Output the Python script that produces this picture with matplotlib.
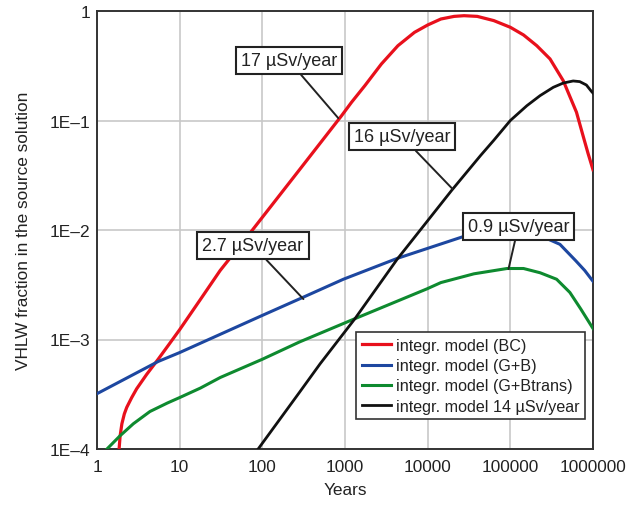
import matplotlib.pyplot as plt
from matplotlib.ticker import FixedLocator, FixedFormatter, NullLocator

plt.rcParams['font.family'] = ['Liberation Sans', 'DejaVu Sans']

# values
bc_years = [1.85, 1.905, 2.0, 2.14, 2.29, 2.63, 3.02, 3.98, 5.5, 7.67, 10, 17.6, 30.9,
            75.9, 288, 912, 1202, 1738, 2754, 4365, 6918, 10000, 14450, 20890, 27540,
            39810, 63100, 100000, 144500, 208900, 302000, 436500, 631000, 758600,
            871000, 1000000]
bc_frac = [1.0e-4, 1.32e-4, 1.70e-4, 2.09e-4, 2.40e-4, 2.95e-4, 3.55e-4, 4.79e-4,
           6.61e-4, 9.33e-4, 1.23e-3, 2.29e-3, 4.27e-3, 1.0e-2, 3.63e-2, 0.111, 0.147,
           0.208, 0.328, 0.482, 0.638, 0.745, 0.845, 0.893, 0.906, 0.893, 0.817, 0.710,
           0.604, 0.482, 0.365, 0.231, 0.119, 0.0724, 0.0501, 0.0355]

gb_years = [1, 5.5, 10, 100, 282, 955, 4270, 26900, 100000, 200000, 398000, 617000,
            794000, 1000000]
gb_frac = [3.2e-4, 6.3e-4, 7.6e-4, 1.66e-3, 2.35e-3, 3.55e-3, 5.5e-3, 8.7e-3, 1.0e-2,
           9.3e-3, 7.4e-3, 5.25e-3, 4.27e-3, 3.4e-3]

gbt_years = [1.32, 1.9, 2.75, 4.37, 7.1, 10, 17.8, 31, 100, 282, 1320, 9800, 14450,
             36300, 91200, 144500, 229000, 363000, 525000, 708000, 1000000]
gbt_frac = [1.0e-4, 1.32e-4, 1.7e-4, 2.2e-4, 2.63e-4, 2.95e-4, 3.6e-4, 4.5e-4, 6.6e-4,
            9.5e-4, 1.55e-3, 2.9e-3, 3.31e-3, 3.98e-3, 4.45e-3, 4.45e-3, 4.07e-3,
            3.55e-3, 2.69e-3, 1.91e-3, 1.26e-3]

m14_years = [89, 282, 500, 1320, 4270, 19500, 43650, 63100, 100000, 158500, 229000,
             331000, 436500, 575400, 691800, 831800, 955000, 1000000]
m14_frac = [1e-4, 3.3e-4, 6.0e-4, 1.55e-3, 5.4e-3, 2.3e-2, 4.79e-2, 0.066, 0.10, 0.1365,
            0.1687, 0.201, 0.2198, 0.2296, 0.2265, 0.2109, 0.1849, 0.178]

x_ticks = [1, 10, 100, 1000, 10000, 100000, 1000000]
x_labels = ['1', '10', '100', '1000', '10000', '100000', '1000000']
y_ticks = [1e-4, 1e-3, 1e-2, 1e-1, 1]
y_labels = ['1E\u20134', '1E\u20133', '1E\u20132', '1E\u20131', '1']

# (text, box centre, point on curve)
notes = [
    ('17 \u00b5Sv/year', (209, 0.353), (830, 0.105)),
    ('16 \u00b5Sv/year', (4900, 0.0714), (20000, 0.0237)),
    ('2.7 \u00b5Sv/year', (77, 7.2e-3), (314, 2.34e-3)),
    ('0.9 \u00b5Sv/year', (125000, 0.0108), (95000, 4.4e-3)),
]

txt = '#222222'

fig = plt.figure(figsize=(6.37, 5.06), dpi=100)
ax = fig.add_axes([97 / 637, 56 / 506, 496 / 637, 438 / 506])

ax.plot(bc_years, bc_frac, color='#e8101c', lw=2.3, label='integr. model (BC)', zorder=3)
ax.plot(gb_years, gb_frac, color='#1d47a0', lw=2.2, label='integr. model (G+B)', zorder=3)
ax.plot(gbt_years, gbt_frac, color='#0e8a2f', lw=2.2, label='integr. model (G+Btrans)', zorder=3)
ax.plot(m14_years, m14_frac, color='#111111', lw=2.0,
        label='integr. model 14 \u00b5Sv/year', zorder=3)

ax.set_xscale('log')
ax.set_yscale('log')
ax.set_xlim(1, 1e6)
ax.set_ylim(1e-4, 1)

ax.xaxis.set_major_locator(FixedLocator(x_ticks))
ax.xaxis.set_major_formatter(FixedFormatter(x_labels))
ax.yaxis.set_major_locator(FixedLocator(y_ticks))
ax.yaxis.set_major_formatter(FixedFormatter(y_labels))
ax.xaxis.set_minor_locator(NullLocator())
ax.yaxis.set_minor_locator(NullLocator())
ax.tick_params(length=0, labelsize=12.4, labelcolor=txt)
ax.tick_params(axis='x', pad=7)
ax.tick_params(axis='y', pad=5)

ax.grid(True, color='#c8c8c8', lw=1.2)
ax.set_axisbelow(True)
for s in ax.spines.values():
    s.set_color('#333333')
    s.set_linewidth(1.4)

ax.set_xlabel('Years', fontsize=12.4, color=txt, labelpad=6)
ax.set_ylabel('VHLW fraction in the source solution', fontsize=12.4, color=txt, labelpad=13)

for label, xytext, xy in notes:
    ax.annotate(label, xy=xy, xytext=xytext, ha='center', va='center',
                fontsize=13, color=txt, zorder=5,
                bbox=dict(boxstyle='square,pad=0.28', fc='white', ec='#222222', lw=1.5),
                arrowprops=dict(arrowstyle='-', color='#222222', lw=1.4,
                                shrinkA=0, shrinkB=0))

leg = ax.legend(loc='lower right', bbox_to_anchor=(0.984, 0.068), borderaxespad=0,
                fontsize=11.6, frameon=True, fancybox=False, framealpha=1,
                handlelength=1.8, handletextpad=0.3, labelspacing=0.32,
                borderpad=0.35)
leg.get_frame().set_edgecolor('#333333')
leg.get_frame().set_linewidth(1.2)
leg.set_zorder(6)
for t in leg.get_texts():
    t.set_color(txt)

fig.savefig('out.png', dpi=100)
